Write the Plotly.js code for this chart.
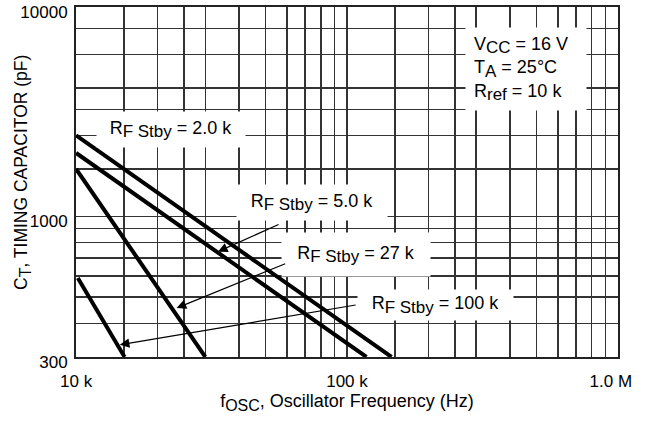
<!DOCTYPE html>
<html><head><meta charset="utf-8">
<script src="https://cdn.plot.ly/plotly-3.0.1.min.js"></script>
<style>html,body{margin:0;padding:0;background:#fff}#chart{width:647px;height:431px}</style>
</head><body><div id="chart"></div>
<script>
// Series: RF Stby curves (straight lines on log-log)
const rfLabels  = ['2.0 k', '5.0 k', '27 k', '100 k'];
const freqStart = [10000, 10000, 10000, 10150];
const capStart  = [2000, 1720, 1500, 590];
const freqEnd   = [146000, 118000, 30000, 15100];
const capEnd    = [300, 300, 300, 300];

// Grid / tick values
const xGridVals = [10000,15000,20000,25000,30000,40000,50000,60000,70000,80000,90000,
                   100000,150000,200000,250000,300000,400000,500000,600000,700000,800000,900000,1000000];
const xTickText = xGridVals.map(v => v === 10000 ? '10 k' : v === 100000 ? '100 k' : v === 1000000 ? '1.0 M&nbsp;&nbsp;&nbsp;' : '');
const yGridVals = [300,400,500,600,700,800,900,1000,1500,2000,2500,3000,4000,5000,6000];
const yTickText = ['300','','','','','','','1000','','','','','','','10000'];

// Label boxes: text, centre (freq, cap), box size
const SUB = (s, px) => '<sub><span style="font-size:' + (px || 17) + 'px">' + s + '</span></sub>';
const boxTexts = rfLabels.map(l => 'R' + SUB('F Stby') + ' = ' + l);
const boxFreq  = [22400, 74300, 108000, 212000];
const boxCap   = [2105, 1126, 721, 469];
const boxW     = [148, 150, 148, 155];
const boxH     = [35, 35, 43, 30];

// Arrows (label -> curve): tail and tip
const arrowFor   = ['5.0 k', '27 k', '100 k'];
const arrowTailF = [56600, 59900, 109000];
const arrowTailC = [938, 670, 469];
const arrowTipF  = [33400, 23500, 14500];
const arrowTipC  = [739, 456, 333];

const condText = 'V' + SUB('CC') + ' = 16 V<br>T' + SUB('A') + ' = 25°C<br>R' + SUB('ref') + ' = 10 k';
const condFreq = 457700, condCap = 3524;

const xTitle = 'f' + SUB('OSC', 16) + ', Oscillator Frequency (Hz)';
const yTitle = 'C' + SUB('T', 16) + ', TIMING CAPACITOR (pF)';

const lg = Math.log10;
const FONT = 'Liberation Sans, Arial, sans-serif';

const traces = rfLabels.map((l, i) => ({
  type: 'scatter', mode: 'lines',
  x: [freqStart[i], freqEnd[i]], y: [capStart[i], capEnd[i]],
  line: {color: '#000', width: 4}, name: l, showlegend: false, hoverinfo: 'skip'
}));

const annotations = [];
boxTexts.forEach((t, i) => annotations.push({
  x: lg(boxFreq[i]), y: lg(boxCap[i]), xref: 'x', yref: 'y',
  text: t, showarrow: false, bgcolor: '#fff', width: boxW[i], height: boxH[i], borderpad: 0,
  font: {family: FONT, size: 18, color: '#000'}, align: 'center', valign: 'middle'
}));
annotations.push({
  x: lg(condFreq), y: lg(condCap), xref: 'x', yref: 'y',
  text: condText, showarrow: false, bgcolor: '#fff', width: 104, height: 66, borderpad: 8,
  font: {family: FONT, size: 18, color: '#000'}, align: 'left', valign: 'middle'
});
arrowFor.forEach((l, i) => annotations.push({
  x: lg(arrowTipF[i]), y: lg(arrowTipC[i]), xref: 'x', yref: 'y',
  ax: lg(arrowTailF[i]), ay: lg(arrowTailC[i]), axref: 'x', ayref: 'y',
  text: '', showarrow: true, arrowhead: 2, arrowsize: 1.6, arrowwidth: 1.2, arrowcolor: '#000'
}));
// y-axis title placed as a rotated annotation so it can sit as close to the labels as in the reference
annotations.push({
  xref: 'paper', yref: 'paper', x: (22 - 76) / 542, y: (357 - 173) / 350,
  xanchor: 'center', yanchor: 'middle', textangle: -90, showarrow: false,
  text: yTitle, font: {family: FONT, size: 17.5, color: '#000'}
});

const layout = {
  width: 647, height: 431,
  margin: {l: 76, r: 29, t: 7, b: 74},
  paper_bgcolor: '#fff', plot_bgcolor: '#fff',
  font: {family: FONT, size: 16, color: '#000'},
  showlegend: false,
  xaxis: {
    type: 'log', range: [lg(10000) - 0.0003, lg(1000000) + 0.0003],
    tickmode: 'array', tickvals: xGridVals, ticktext: xTickText,
    ticks: '', ticklabelstandoff: 8, ticklabeloverflow: 'allow',
    showgrid: true, gridcolor: '#333', gridwidth: 1.6,
    showline: true, mirror: true, linecolor: '#222', linewidth: 2,
    zeroline: false, automargin: false,
    tickfont: {family: FONT, size: 17, color: '#000'},
    title: {text: xTitle, font: {family: FONT, size: 18, color: '#000'}, standoff: 1}
  },
  yaxis: {
    type: 'log', range: [lg(300) - 0.0003, lg(6000) + 0.0003],
    tickmode: 'array', tickvals: yGridVals, ticktext: yTickText,
    ticks: '', ticklabelstandoff: 3, ticklabelshift: 5, ticklabeloverflow: 'allow',
    showgrid: true, gridcolor: '#333', gridwidth: 1.6,
    showline: true, mirror: true, linecolor: '#222', linewidth: 2,
    zeroline: false, automargin: false,
    tickfont: {family: FONT, size: 17, color: '#000'},
    title: {text: ''}
  },
  annotations: annotations
};

Plotly.newPlot('chart', traces, layout, {staticPlot: true, displayModeBar: false});
</script>
</body></html>
